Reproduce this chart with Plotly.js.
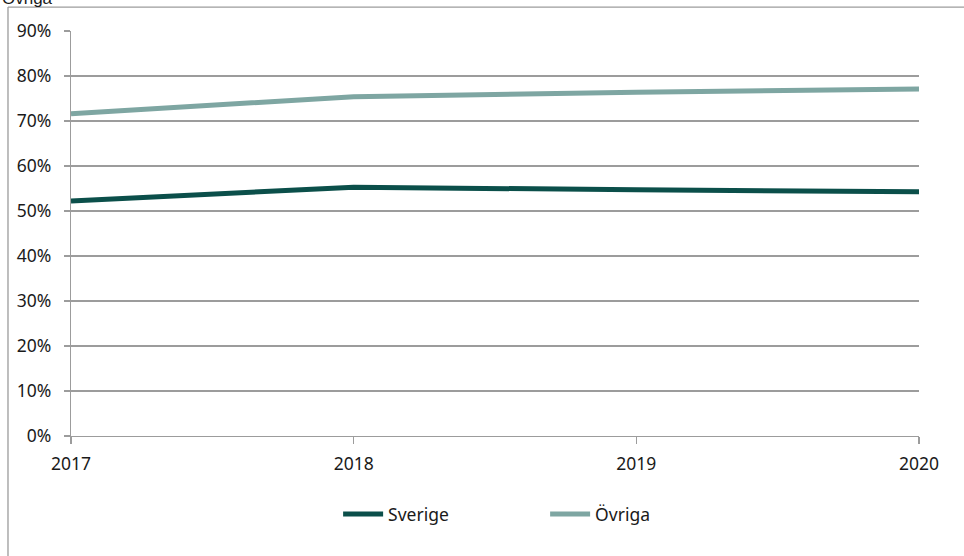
<!DOCTYPE html>
<html>
<head>
<meta charset="utf-8">
<script src="https://cdn.plot.ly/plotly-3.0.1.min.js"></script>
<style>
  html, body { margin: 0; padding: 0; background: #ffffff; }
  #chart { width: 964px; height: 556px; }
</style>
</head>
<body>
<div id="chart"></div>
<script>
// Share per year, two groups
const years = [2017, 2018, 2019, 2020];
const sverige = [0.522, 0.553, 0.547, 0.543];
const ovriga = [0.716, 0.754, 0.764, 0.771];
const yTicks = [0, 0.1, 0.2, 0.3, 0.4, 0.5, 0.6, 0.7, 0.8, 0.9];

const tickFont = { family: 'Noto Sans, Open Sans, sans-serif', size: 17.5, color: '#1a1a1a' };
const gridColor = '#9c9c9c';

const traces = [
  {
    x: years, y: sverige, name: 'Sverige', type: 'scatter', mode: 'lines',
    line: { color: '#0b4f4a', width: 5 }
  },
  {
    x: years, y: ovriga, name: 'Övriga', type: 'scatter', mode: 'lines',
    line: { color: '#7ea6a2', width: 5 }
  }
];

const layout = {
  width: 964, height: 556,
  margin: { l: 71, r: 45, t: 31, b: 120 },
  paper_bgcolor: '#ffffff', plot_bgcolor: '#ffffff',
  showlegend: true,
  legend: {
    orientation: 'h', x: 0.315, xanchor: 'left', y: -0.193, yanchor: 'middle',
    entrywidth: 152, entrywidthmode: 'pixels',
    font: tickFont, itemwidth: 40
  },
  xaxis: {
    range: [2017, 2020], tickvals: years, ticktext: years.map(String),
    showgrid: false, zeroline: false,
    showline: true, linecolor: gridColor, linewidth: 1.3,
    ticks: 'outside', ticklen: 7, tickcolor: gridColor, tickwidth: 1.3,
    ticklabelstandoff: 5,
    tickfont: tickFont, fixedrange: true
  },
  yaxis: {
    range: [0, 0.9], tickvals: yTicks, tickformat: '.0%',
    showgrid: true, gridcolor: gridColor, gridwidth: 1.3, zeroline: false,
    showline: true, linecolor: gridColor, linewidth: 1.3,
    ticks: 'outside', ticklen: 6, tickcolor: gridColor, tickwidth: 1.3,
    ticklabelstandoff: 9,
    tickfont: tickFont, fixedrange: true
  },
  shapes: [
    // outer frame around the chart area
    { type: 'line', xref: 'paper', yref: 'paper', x0: -0.0743, x1: -0.0743, y0: 1.059, y1: -0.4,
      line: { color: '#9c9c9c', width: 1.3 } },
    { type: 'line', xref: 'paper', yref: 'paper', x0: -0.0743, x1: 1.2, y0: 1.059, y1: 1.059,
      line: { color: '#9c9c9c', width: 1.3 } }
  ],
  annotations: [
    { text: 'Övriga', xref: 'paper', yref: 'paper', x: -0.084, xanchor: 'left',
      y: 1.0515, yanchor: 'bottom', showarrow: false,
      font: { family: 'Liberation Sans, Arial, sans-serif', size: 17, color: '#1a1a1a' } }
  ]
};

Plotly.newPlot('chart', traces, layout, { displayModeBar: false, staticPlot: true });
</script>
</body>
</html>
